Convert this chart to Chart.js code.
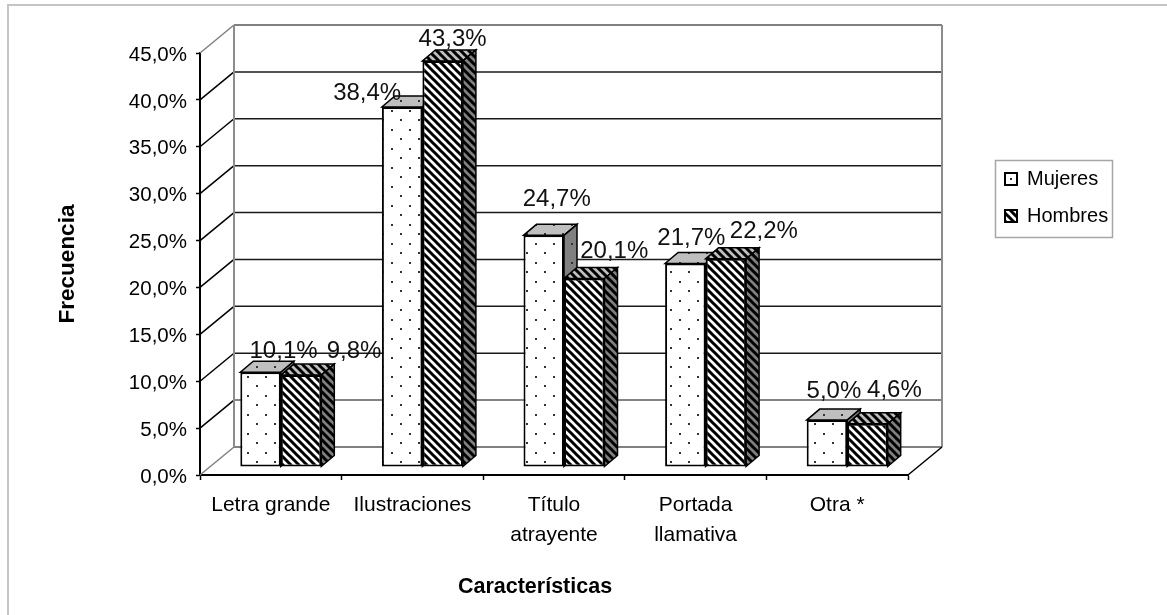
<!DOCTYPE html>
<html>
<head>
<meta charset="utf-8">
<style>html,body{margin:0;padding:0;background:#fff}canvas{display:block}</style>
<script src="https://cdn.jsdelivr.net/npm/chart.js@4/dist/chart.umd.js"></script>
</head>
<body>
<canvas id="c" width="1167" height="615"></canvas>
<script>
const categories = ['Letra grande', 'Ilustraciones', ['Título', 'atrayente'], ['Portada', 'llamativa'], 'Otra *'];
const mujeres = [10.1, 38.4, 24.7, 21.7, 5.0];
const hombres = [9.8, 43.3, 20.1, 22.2, 4.6];
const seriesNames = ['Mujeres', 'Hombres'];
const yTitle = 'Frecuencia';
const xTitle = 'Características';

// label nudges relative to the top-centre of each bar [dx, dy]
const labelNudge = [
  [[23, -21], [-35, -14], [13, -36], [6, -25], [7, -29]],
  [[53, -24], [10, -22], [30, -27], [38, -27], [27, -33]]
];

const WALL = {dx: 34, dy: -28};
const BAR_SHIFT = {dx: 10, dy: -8};
const DEPTH = {dx: 13, dy: -11};
const FONT = '"Liberation Sans", Arial, sans-serif';

function tile(w, h, bg, draw) {
  const c = document.createElement('canvas');
  c.width = w; c.height = h;
  const g = c.getContext('2d');
  if (bg) { g.fillStyle = bg; g.fillRect(0, 0, w, h); }
  draw(g, w, h);
  return document.createElement('canvas').getContext('2d').createPattern(c, 'repeat');
}
const dots = (g) => {
  g.fillStyle = '#333';
  g.fillRect(3, 4, 2, 2);
  g.fillRect(12, 13, 2, 2);
};
const stripes = (g, w, h) => {
  g.strokeStyle = '#000';
  g.lineWidth = 3;
  g.lineCap = 'square';
  g.beginPath();
  for (let i = -w; i <= w; i += w) { g.moveTo(i, 0); g.lineTo(i + w, h); }
  g.stroke();
};
const patterns = [
  {front: tile(18, 19, '#fff', dots), top: tile(18, 19, '#bfbfbf', dots), side: tile(18, 19, '#808080', dots)},
  {front: tile(8, 8, '#fff', stripes), top: tile(8, 8, '#bfbfbf', stripes), side: tile(8, 8, '#808080', stripes)}
];
const legendDot = tile(12, 12, '#fff', g => { g.fillStyle = '#222'; g.fillRect(2, 10, 2, 2); });

function poly(ctx, pts, fill, stroke, lw) {
  ctx.beginPath();
  pts.forEach((p, i) => i ? ctx.lineTo(p[0], p[1]) : ctx.moveTo(p[0], p[1]));
  ctx.closePath();
  if (fill) { ctx.fillStyle = fill; ctx.fill(); }
  if (stroke) { ctx.strokeStyle = stroke; ctx.lineWidth = lw; ctx.stroke(); }
}
function line(ctx, x1, y1, x2, y2, color, lw) {
  ctx.beginPath(); ctx.moveTo(x1, y1); ctx.lineTo(x2, y2);
  ctx.strokeStyle = color; ctx.lineWidth = lw; ctx.stroke();
}

const scene = {
  id: 'scene',
  afterLayout(chart) {
    const l = chart.legend;
    l.left = 988; l.right = 1113; l.top = 152; l.bottom = 320;
  },
  beforeDraw(chart) {
    const ctx = chart.ctx;
    ctx.save();
    ctx.fillStyle = '#fff';
    ctx.fillRect(0, 0, chart.width, chart.height);
    ctx.fillStyle = '#c4c4c4';
    ctx.fillRect(7, 4, chart.width - 7, 2);
    ctx.fillRect(7, 4, 2, chart.height - 4);
    // legend frame
    ctx.strokeStyle = '#a6a6a6';
    ctx.lineWidth = 1.5;
    ctx.strokeRect(995.5, 160.5, 117, 77);
    ctx.restore();
  },
  beforeDatasetsDraw(chart) {
    const ctx = chart.ctx, a = chart.chartArea, y = chart.scales.y;
    ctx.save();
    // walls and floor
    const ticks = y.ticks.map(t => t.value);
    ticks.forEach(v => {
      const py = y.getPixelForValue(v);
      const edge = v === 0 || v === ticks[ticks.length - 1];
      const back = v === 5 ? '#5a5a5a' : '#1a1a1a';
      line(ctx, a.left, py, a.left + WALL.dx, py + WALL.dy, edge ? '#808080' : '#000', 1.5);
      line(ctx, a.left + WALL.dx, py + WALL.dy, a.right + WALL.dx, py + WALL.dy, edge ? '#808080' : back, edge ? 2 : 1.5);
    });
    line(ctx, a.left + WALL.dx, a.top + WALL.dy, a.left + WALL.dx, a.bottom + WALL.dy, '#8c8c8c', 2);
    line(ctx, a.right + WALL.dx, a.top + WALL.dy, a.right + WALL.dx, a.bottom + WALL.dy, '#8c8c8c', 2);
    line(ctx, a.right, a.bottom, a.right + WALL.dx, a.bottom + WALL.dy, '#000', 1.5);

    // depth faces of the bars
    ctx.translate(BAR_SHIFT.dx, BAR_SHIFT.dy);
    chart.data.datasets.forEach((ds, i) => {
      chart.getDatasetMeta(i).data.forEach(el => {
        const p = el.getProps(['x', 'y', 'base', 'width'], false);
        const L = p.x - p.width / 2, R = p.x + p.width / 2;
        poly(ctx, [[L, p.y], [R, p.y], [R + DEPTH.dx, p.y + DEPTH.dy], [L + DEPTH.dx, p.y + DEPTH.dy]],
          patterns[i].top, '#000', 1.5);
        poly(ctx, [[R, p.y], [R + DEPTH.dx, p.y + DEPTH.dy], [R + DEPTH.dx, p.base + DEPTH.dy], [R, p.base]],
          patterns[i].side, '#000', 1.5);
      });
    });
    ctx.restore();
    ctx.save();
    ctx.translate(BAR_SHIFT.dx, BAR_SHIFT.dy);
  },
  afterDatasetsDraw(chart) {
    const ctx = chart.ctx;
    ctx.restore();
    ctx.save();
    ctx.font = '24px ' + FONT;
    ctx.fillStyle = '#111';
    ctx.textAlign = 'center';
    ctx.textBaseline = 'middle';
    chart.data.datasets.forEach((ds, i) => {
      chart.getDatasetMeta(i).data.forEach((el, j) => {
        const p = el.getProps(['x', 'y'], false);
        const n = labelNudge[i][j];
        ctx.fillText(ds.data[j].toFixed(1).replace('.', ',') + '%',
          p.x + BAR_SHIFT.dx + n[0], p.y + BAR_SHIFT.dy + n[1]);
      });
    });
    ctx.font = 'bold 21.5px ' + FONT;
    ctx.fillStyle = '#000';
    ctx.fillText(xTitle, 535, 587);
    ctx.restore();
  }
};

new Chart(document.getElementById('c'), {
  type: 'bar',
  data: {
    labels: categories,
    datasets: [
      {label: seriesNames[0], data: mujeres, backgroundColor: patterns[0].front, borderColor: '#000', borderWidth: 2, borderSkipped: false},
      {label: seriesNames[1], data: hombres, backgroundColor: patterns[1].front, borderColor: '#000', borderWidth: 2, borderSkipped: false}
    ]
  },
  options: {
    responsive: false,
    animation: false,
    layout: {padding: {left: 54, top: 53, right: 259, bottom: 15}},
    datasets: {bar: {categoryPercentage: 0.572, barPercentage: 1, clip: false}},
    plugins: {
      tooltip: {enabled: false},
      legend: {
        position: 'chartArea',
        align: 'start',
        labels: {
          boxWidth: 12, boxHeight: 12, padding: 17,
          color: '#000',
          font: {family: FONT, size: 20},
          generateLabels(chart) {
            const items = Chart.defaults.plugins.legend.labels.generateLabels(chart);
            items[0].fillStyle = legendDot;
            return items;
          }
        }
      }
    },
    scales: {
      x: {
        afterFit(s) { s.height = 125; },
        offset: true,
        grid: {display: true, drawOnChartArea: false, offset: true, tickLength: 5, tickColor: '#000', tickWidth: 1.5},
        border: {display: true, color: '#000', width: 2},
        ticks: {
          autoSkip: false, maxRotation: 0, minRotation: 0, padding: 10, color: '#000',
          font: {family: FONT, size: 21, lineHeight: 1.43}
        }
      },
      y: {
        min: 0, max: 45,
        afterFit(s) { s.width = 146; },
        grid: {display: true, drawOnChartArea: false, tickLength: 4, tickColor: '#000', tickWidth: 1.5},
        border: {display: true, color: '#000', width: 2},
        ticks: {
          stepSize: 5, padding: 9, color: '#000', labelOffset: 2,
          font: {family: FONT, size: 20.5},
          callback: v => v.toFixed(1).replace('.', ',') + '%'
        },
        title: {
          display: true, text: yTitle, color: '#000', padding: 0,
          font: {family: FONT, size: 22.5, weight: 'bold'}
        }
      }
    }
  },
  plugins: [scene]
});
</script>
</body>
</html>
